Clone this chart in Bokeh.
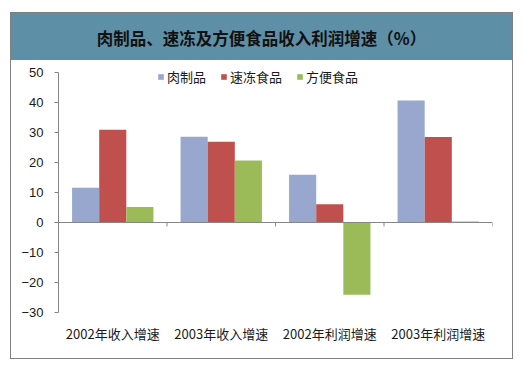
from bokeh.plotting import figure
from bokeh.models import Div, Span, FixedTicker, Legend, LegendItem, ColumnDataSource, Range1d
from bokeh.layouts import column
from bokeh.embed import file_html
from bokeh.resources import INLINE

title_text = "肉制品、速冻及方便食品收入利润增速（%）"
categories = ["2002年收入增速", "2003年收入增速", "2002年利润增速", "2003年利润增速"]
series_names = ["肉制品", "速冻食品", "方便食品"]
meat = [11.6, 28.6, 15.9, 40.7]
frozen = [30.9, 26.9, 6.1, 28.5]
convenience = [5.2, 20.7, -24.1, 0.3]
y_ticks = [-30, -20, -10, 0, 10, 20, 30, 40, 50]

colors = ["#97a7cd", "#c0504d", "#9bbb59"]
series = [meat, frozen, convenience]
bar_w = 0.25
offsets = [-0.25, 0.0, 0.25]

# 3 px per unit; 8 px of headroom above the axis top for the legend
y_pad = 8 / 3.0
p = figure(width=501, height=298, output_backend="svg", toolbar_location=None,
           x_range=Range1d(0, len(categories)),
           y_range=Range1d(y_ticks[0], y_ticks[-1] + y_pad),
           min_border_left=47, min_border_right=20, min_border_top=4, min_border_bottom=46,
           outline_line_color=None, background_fill_color="white", border_fill_color="white")
p.grid.visible = False

items = []
for name, vals, col, off in zip(series_names, series, colors, offsets):
    xs = [i + 0.5 + off for i in range(len(categories))]
    src = ColumnDataSource(dict(x=xs, top=vals))
    r = p.vbar(x="x", top="top", bottom=0, width=bar_w, source=src,
               fill_color=col, line_color=None)
    items.append(LegendItem(label=name, renderers=[r]))

# zero axis line and category boundary ticks
p.add_layout(Span(location=0, dimension="width", line_color="#868686", line_width=1))
bx = list(range(len(categories) + 1))
p.segment(x0=bx, y0=[0] * len(bx), x1=bx, y1=[-1.3] * len(bx), line_color="#868686", line_width=1)

# x axis (labels only)
xa = p.xaxis[0]
xa.ticker = FixedTicker(ticks=[i + 0.5 for i in range(len(categories))])
xa.major_label_overrides = {i + 0.5: c for i, c in enumerate(categories)}
xa.axis_line_color = None
xa.major_tick_line_color = None
xa.minor_tick_line_color = None
xa.major_label_standoff = 5
xa.major_label_text_font = "Noto Sans CJK SC"
xa.major_label_text_font_size = "13px"
xa.major_label_text_color = "#1a1a1a"

ya = p.yaxis[0]
ya.ticker = FixedTicker(ticks=y_ticks)
ya.bounds = (y_ticks[0], y_ticks[-1])
ya.axis_line_color = "#868686"
ya.major_tick_line_color = "#868686"
ya.major_tick_out = 4
ya.major_tick_in = 0
ya.minor_tick_line_color = None
ya.major_label_standoff = 11
ya.major_label_text_font = "Liberation Sans"
ya.major_label_text_font_size = "13px"
ya.major_label_text_color = "#1a1a1a"

legend = Legend(items=items, orientation="horizontal", location=(99, 225),
                glyph_width=7, glyph_height=7, label_standoff=3, spacing=14,
                padding=0, margin=0, label_height=22,
                label_text_font="Noto Sans CJK SC", label_text_font_size="13px",
                label_text_color="#1a1a1a",
                background_fill_alpha=0, border_line_color=None)
p.add_layout(legend)

header = Div(text=title_text, width=501, height=47, margin=0,
             styles={"background-color": "#5d8fa6", "text-align": "center",
                     "font-size": "16.5px", "font-weight": "bold", "line-height": "50px",
                     "font-family": "Noto Sans CJK SC", "color": "#111111"})

layout = column(header, p, spacing=0, margin=(12, 0, 0, 10),
                styles={"border": "1px solid #808080"})

open("out.html", "w").write(file_html(layout, INLINE))
